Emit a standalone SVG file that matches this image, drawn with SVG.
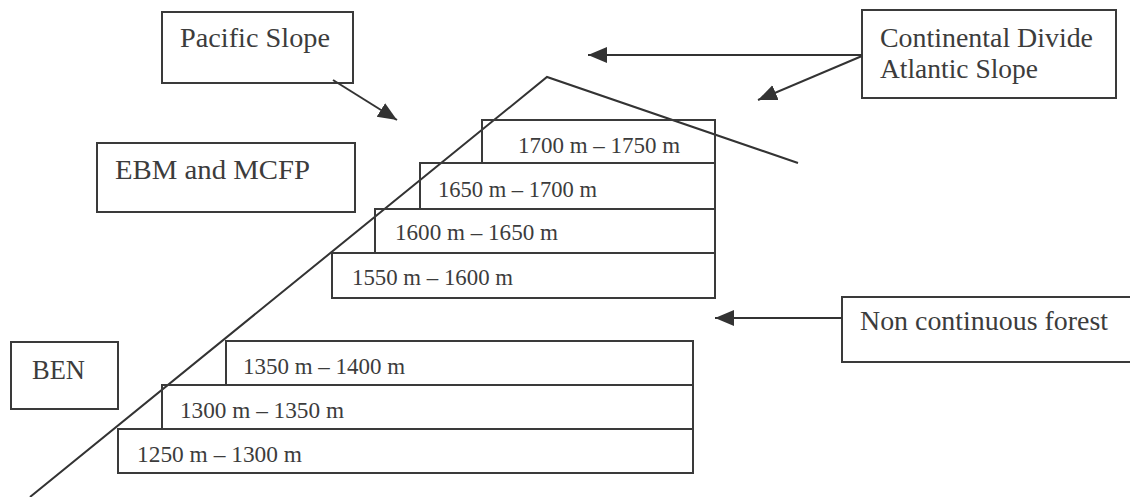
<svg xmlns="http://www.w3.org/2000/svg" width="1130" height="497" viewBox="0 0 1130 497">
<defs>
<style>
.box{fill:none;stroke:#3a3a3a;stroke-width:2}
.ln{fill:none;stroke:#333;stroke-width:2}
.lbl{font-family:"Liberation Serif","Times New Roman",serif;font-size:27px;fill:#3c3c3c}
.alt{font-family:"Liberation Serif","Times New Roman",serif;font-size:23px;fill:#3c3c3c}
</style>
<marker id="ah" markerUnits="userSpaceOnUse" markerWidth="22" markerHeight="18" refX="19" refY="8" orient="auto">
<path d="M0,0 L19,8 L0,16 Z" fill="#333"/>
</marker>
</defs>
<rect width="1130" height="497" fill="#fff"/>
<g id="slope">
<polyline class="ln" points="30,497 547,77 798,163"/>
</g>
<g id="pacific-slope">
<rect class="box" x="162" y="12" width="191" height="71"/>
<text class="lbl" x="180" y="47" textLength="150" lengthAdjust="spacingAndGlyphs">Pacific Slope</text>
</g>
<g id="continental-divide">
<rect class="box" x="862" y="10" width="254" height="88"/>
<text class="lbl" x="880" y="47" textLength="213" lengthAdjust="spacingAndGlyphs">Continental Divide</text>
<text class="lbl" x="880" y="78" textLength="158" lengthAdjust="spacingAndGlyphs">Atlantic Slope</text>
</g>
<g id="ebm-mcfp">
<rect class="box" x="97" y="143" width="258" height="69"/>
<text class="lbl" x="115" y="179" textLength="195" lengthAdjust="spacingAndGlyphs">EBM and MCFP</text>
</g>
<g id="ben">
<rect class="box" x="11" y="342" width="107" height="67"/>
<text class="lbl" x="32" y="379" textLength="53" lengthAdjust="spacingAndGlyphs">BEN</text>
</g>
<g id="non-continuous">
<rect class="box" x="842" y="297" width="300" height="65"/>
<text class="lbl" x="860" y="330" textLength="248" lengthAdjust="spacingAndGlyphs">Non continuous forest</text>
</g>
<g id="band-1700">
<rect class="box" x="482" y="120" width="233" height="43"/>
<text class="alt" x="518" y="153" textLength="162" lengthAdjust="spacingAndGlyphs">1700 m – 1750 m</text>
</g>
<g id="band-1650">
<rect class="box" x="420" y="163" width="295" height="46"/>
<text class="alt" x="438" y="197" textLength="159" lengthAdjust="spacingAndGlyphs">1650 m – 1700 m</text>
</g>
<g id="band-1600">
<rect class="box" x="375" y="209" width="340" height="44"/>
<text class="alt" x="395" y="240" textLength="163" lengthAdjust="spacingAndGlyphs">1600 m – 1650 m</text>
</g>
<g id="band-1550">
<rect class="box" x="332" y="253" width="383" height="45"/>
<text class="alt" x="352" y="285" textLength="161" lengthAdjust="spacingAndGlyphs">1550 m – 1600 m</text>
</g>
<g id="band-1350">
<rect class="box" x="226" y="341" width="467" height="44"/>
<text class="alt" x="243" y="374" textLength="162" lengthAdjust="spacingAndGlyphs">1350 m – 1400 m</text>
</g>
<g id="band-1300">
<rect class="box" x="162" y="385" width="531" height="44"/>
<text class="alt" x="180" y="418" textLength="164" lengthAdjust="spacingAndGlyphs">1300 m – 1350 m</text>
</g>
<g id="band-1250">
<rect class="box" x="118" y="429" width="575" height="44"/>
<text class="alt" x="137" y="462" textLength="165" lengthAdjust="spacingAndGlyphs">1250 m – 1300 m</text>
</g>
<g id="connectors">
<line class="ln" x1="333" y1="80" x2="397" y2="120" marker-end="url(#ah)"/>
<line class="ln" x1="862" y1="55" x2="588" y2="55" marker-end="url(#ah)"/>
<line class="ln" x1="862" y1="56" x2="758" y2="100" marker-end="url(#ah)"/>
<line class="ln" x1="842" y1="318" x2="715" y2="318" marker-end="url(#ah)"/>
</g>
</svg>
